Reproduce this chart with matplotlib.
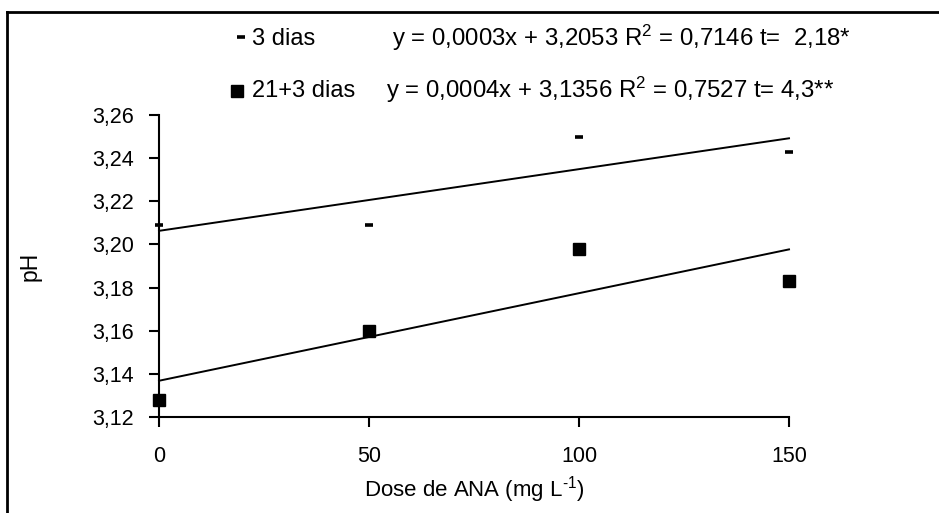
import matplotlib
matplotlib.use("Agg")
import matplotlib.pyplot as plt
from matplotlib.lines import Line2D
import numpy as np

doses = [0, 50, 100, 150]
ph_3dias = [3.209, 3.209, 3.250, 3.243]
ph_21_3dias = [3.128, 3.160, 3.198, 3.183]
yticks = [3.12, 3.14, 3.16, 3.18, 3.20, 3.22, 3.24, 3.26]
xticks = [0, 50, 100, 150]
eq_3 = "y = 0,0003x + 3,2053 R$^{2}$ = 0,7146 t=  2,18*"
eq_21 = "y = 0,0004x + 3,1356 R$^{2}$ = 0,7527 t= 4,3**"

plt.rcParams['font.family'] = ['Liberation Sans', 'DejaVu Sans']
plt.rcParams['mathtext.fontset'] = 'custom'
plt.rcParams['mathtext.rm'] = 'Liberation Sans'
plt.rcParams['mathtext.it'] = 'Liberation Sans'
plt.rcParams['mathtext.bf'] = 'Liberation Sans'

W, H = 939, 513
fig = plt.figure(figsize=(W/100, H/100), dpi=100)
ax = fig.add_axes([159/W, 1-417/H, (789-159)/W, (417-115)/H])

x = np.array(doses, dtype=float)
xx = np.array([0, 150], dtype=float)
for ys in (ph_3dias, ph_21_3dias):
    b, a = np.polyfit(x, np.array(ys), 1)
    ax.plot(xx, a + b*xx, color='black', lw=1.4, clip_on=False)

ax.plot(doses, ph_3dias, linestyle='none', marker='_', ms=5.8, mew=2.6,
        color='black', clip_on=False, zorder=5)
ax.plot(doses, ph_21_3dias, linestyle='none', marker='s', ms=8.0,
        color='black', clip_on=False, zorder=5)

ax.set_xlim(0, 150)
ax.set_ylim(3.12, 3.26)
ax.set_xticks(xticks)
ax.set_xticklabels([str(t) for t in xticks])
ax.set_yticks(yticks)
ax.set_yticklabels([f"{t:.2f}".replace('.', ',') for t in yticks])
for s in ('top', 'right'):
    ax.spines[s].set_visible(False)
for s in ('left', 'bottom'):
    ax.spines[s].set_linewidth(1.5)
ax.tick_params(axis='both', direction='out', length=7, width=1.5,
               labelsize=15.5, colors='black')
ax.tick_params(axis='x', pad=14)
ax.tick_params(axis='y', pad=11)

ax.set_xlabel(r"Dose de ANA (mg L$^{\text{-1}}$)", fontsize=16)
ax.xaxis.set_label_coords(0.5, -0.19)
ax.set_ylabel("pH", fontsize=16.5)
ax.yaxis.set_label_coords(-0.186, 0.5)

# legend
fig.add_artist(Line2D([241/W], [1-37/H], marker='_', ms=5.8, mew=2.6,
                      color='black', linestyle='none'))
fig.text(252/W, 1-39/H, "3 dias", fontsize=17, va='center', ha='left')
fig.add_artist(Line2D([237.5/W], [1-90.5/H], marker='s', ms=8.0,
                      color='black', linestyle='none'))
fig.text(252/W, 1-91/H, "21+3 dias", fontsize=17, va='center', ha='left')
fig.text(392/W, 1-38/H, eq_3, fontsize=17.3, va='center', ha='left')
fig.text(386/W, 1-90/H, eq_21, fontsize=17.3, va='center', ha='left')

# frame
fig.add_artist(Line2D([7/W, 7/W], [0, 1-12/H], color='black', lw=2))
fig.add_artist(Line2D([7/W, 1], [1-12/H, 1-12/H], color='black', lw=2))

fig.savefig("out.png", dpi=100)
